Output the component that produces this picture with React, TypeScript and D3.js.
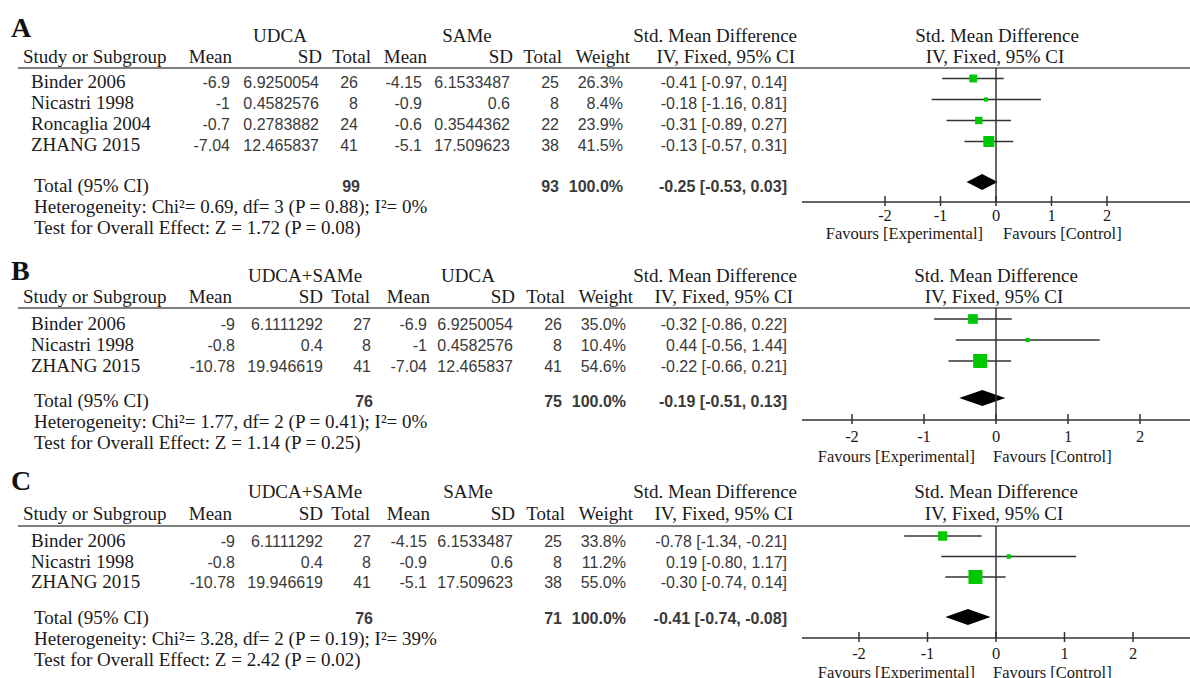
import React from "react";
import * as d3 from "d3";

// values
const groupsA = ["UDCA", "SAMe"];
const groupsB = ["UDCA+SAMe", "UDCA"];
const groupsC = ["UDCA+SAMe", "SAMe"];

const rowsA = [
  { study: "Binder 2006", m1: -6.9, sd1: 6.9250054, n1: 26, m2: -4.15, sd2: 6.1533487, n2: 25, w: 26.3, smd: -0.41, lo: -0.97, hi: 0.14 },
  { study: "Nicastri 1998", m1: -1, sd1: 0.4582576, n1: 8, m2: -0.9, sd2: 0.6, n2: 8, w: 8.4, smd: -0.18, lo: -1.16, hi: 0.81 },
  { study: "Roncaglia 2004", m1: -0.7, sd1: 0.2783882, n1: 24, m2: -0.6, sd2: 0.3544362, n2: 22, w: 23.9, smd: -0.31, lo: -0.89, hi: 0.27 },
  { study: "ZHANG 2015", m1: -7.04, sd1: 12.465837, n1: 41, m2: -5.1, sd2: 17.509623, n2: 38, w: 41.5, smd: -0.13, lo: -0.57, hi: 0.31 },
];
const rowsB = [
  { study: "Binder 2006", m1: -9, sd1: 6.1111292, n1: 27, m2: -6.9, sd2: 6.9250054, n2: 26, w: 35.0, smd: -0.32, lo: -0.86, hi: 0.22 },
  { study: "Nicastri 1998", m1: -0.8, sd1: 0.4, n1: 8, m2: -1, sd2: 0.4582576, n2: 8, w: 10.4, smd: 0.44, lo: -0.56, hi: 1.44 },
  { study: "ZHANG 2015", m1: -10.78, sd1: 19.946619, n1: 41, m2: -7.04, sd2: 12.465837, n2: 41, w: 54.6, smd: -0.22, lo: -0.66, hi: 0.21 },
];
const rowsC = [
  { study: "Binder 2006", m1: -9, sd1: 6.1111292, n1: 27, m2: -4.15, sd2: 6.1533487, n2: 25, w: 33.8, smd: -0.78, lo: -1.34, hi: -0.21 },
  { study: "Nicastri 1998", m1: -0.8, sd1: 0.4, n1: 8, m2: -0.9, sd2: 0.6, n2: 8, w: 11.2, smd: 0.19, lo: -0.8, hi: 1.17 },
  { study: "ZHANG 2015", m1: -10.78, sd1: 19.946619, n1: 41, m2: -5.1, sd2: 17.509623, n2: 38, w: 55.0, smd: -0.3, lo: -0.74, hi: 0.14 },
];

const totalA = { n1: 99, n2: 93, smd: -0.25, lo: -0.53, hi: 0.03 };
const totalB = { n1: 76, n2: 75, smd: -0.19, lo: -0.51, hi: 0.13 };
const totalC = { n1: 76, n2: 71, smd: -0.41, lo: -0.74, hi: -0.08 };

const hetA = "Heterogeneity: Chi²= 0.69, df= 3 (P = 0.88); I²= 0%";
const hetB = "Heterogeneity: Chi²= 1.77, df= 2 (P = 0.41); I²= 0%";
const hetC = "Heterogeneity: Chi²= 3.28, df= 2 (P = 0.19); I²= 39%";
const testA = "Test for Overall Effect: Z = 1.72 (P = 0.08)";
const testB = "Test for Overall Effect: Z = 1.14 (P = 0.25)";
const testC = "Test for Overall Effect: Z = 2.42 (P = 0.02)";

const axisTicks = [-2, -1, 0, 1, 2];

const SERIF = "'Liberation Serif', 'Times New Roman', serif";
const SANS = "'Liberation Sans', Arial, sans-serif";

// column positions
const colsA = {
  m1: 230, sd1: 319, n1: 358, m2: 422, sd2: 510, n2: 559, w: 623, ci: 787,
  hM1: 232, hSd1: 322, hN1: 371, hM2: 427, hSd2: 513, hN2: 562, hW: 630, hIv: 795, hStd: 797,
  g1: 280, g2: 467,
};
const colsBC = {
  m1: 235, sd1: 323, n1: 371, m2: 427, sd2: 513, n2: 562, w: 626, ci: 787,
  hM1: 232, hSd1: 323, hN1: 370, hM2: 430, hSd2: 515, hN2: 565, hW: 633, hIv: 793, hStd: 797,
  g1: 305, g2: 468,
};

const layA = { letterY: 37, groupY: 42, headY: 63, lineY: 68, rowY: 88, rowStep: 21, totalY: 192, hetY: 213, testY: 234,
  axisY: 202, tickY: 221, favY: 239, forest: [885, 1107], mark: 9.5, diam: 10, maxSide: 11, minSide: 2.5, favExp: 983, favCtl: 1003, titleX: 997 };
const layB = { letterY: 280, groupY: 282, headY: 303, lineY: 308, rowY: 330, rowStep: 21, totalY: 407, hetY: 428, testY: 449,
  axisY: 420, tickY: 442, favY: 462, forest: [852, 1140], mark: 11, diam: 9, maxSide: 14, minSide: 2, favExp: 975, favCtl: 993, titleX: 996 };
const layC = { letterY: 490, groupY: 498, headY: 520, lineY: 526, rowY: 547, rowStep: 20.5, totalY: 624, hetY: 645, testY: 666,
  axisY: 638, tickY: 659, favY: 678, forest: [859, 1133], mark: 11, diam: 7, maxSide: 14, minSide: 2, favExp: 975, favCtl: 993, titleX: 996 };

const f2 = (v) => v.toFixed(2);
const ciText = (d) => `${f2(d.smd)} [${f2(d.lo)}, ${f2(d.hi)}]`;

function Panel({ letter, groups, rows, total, het, test, cols, lay }) {
  const x = d3.scaleLinear().domain([-2, 2]).range(lay.forest);
  const side = d3.scaleLinear().domain([0, d3.max(rows, (r) => r.w)]).range([lay.minSide, lay.maxSide]);
  const y = (i) => lay.rowY + i * lay.rowStep;
  const serif = { fontFamily: SERIF, fontSize: 19, fill: "#1a1a1a" };
  const sans = { fontFamily: SANS, fontSize: 16, fill: "#3a3a3a" };
  const dy = lay.totalY - lay.diam;
  const diamond = d3.line()([
    [x(total.lo), dy], [x(total.smd), dy - 8], [x(total.hi), dy], [x(total.smd), dy + 8],
  ]) + "Z";

  return (
    <g>
      <text x={11} y={lay.letterY} fontFamily={SERIF} fontSize={28} fontWeight="bold" fill="#111">{letter}</text>
      <g {...serif}>
        <text x={cols.g1} y={lay.groupY} textAnchor="middle">{groups[0]}</text>
        <text x={cols.g2} y={lay.groupY} textAnchor="middle">{groups[1]}</text>
        <text x={cols.hStd} y={lay.groupY} textAnchor="end">Std. Mean Difference</text>
        <text x={lay.titleX} y={lay.groupY} textAnchor="middle">Std. Mean Difference</text>
        <text x={23} y={lay.headY}>Study or Subgroup</text>
        <text x={cols.hM1} y={lay.headY} textAnchor="end">Mean</text>
        <text x={cols.hSd1} y={lay.headY} textAnchor="end">SD</text>
        <text x={cols.hN1} y={lay.headY} textAnchor="end">Total</text>
        <text x={cols.hM2} y={lay.headY} textAnchor="end">Mean</text>
        <text x={cols.hSd2} y={lay.headY} textAnchor="end">SD</text>
        <text x={cols.hN2} y={lay.headY} textAnchor="end">Total</text>
        <text x={cols.hW} y={lay.headY} textAnchor="end">Weight</text>
        <text x={cols.hIv} y={lay.headY} textAnchor="end">IV, Fixed, 95% CI</text>
        <text x={lay.titleX - 2} y={lay.headY} textAnchor="middle">IV, Fixed, 95% CI</text>
      </g>
      <line x1={18} x2={1190} y1={lay.lineY} y2={lay.lineY} stroke="#555" strokeWidth={1.5} />

      {rows.map((r, i) => (
        <g key={r.study}>
          <text x={31} y={y(i)} {...serif}>{r.study}</text>
          <g {...sans} textAnchor="end">
            <text x={cols.m1} y={y(i)}>{String(r.m1)}</text>
            <text x={cols.sd1} y={y(i)}>{String(r.sd1)}</text>
            <text x={cols.n1} y={y(i)}>{r.n1}</text>
            <text x={cols.m2} y={y(i)}>{String(r.m2)}</text>
            <text x={cols.sd2} y={y(i)}>{String(r.sd2)}</text>
            <text x={cols.n2} y={y(i)}>{r.n2}</text>
            <text x={cols.w} y={y(i)}>{r.w.toFixed(1)}%</text>
            <text x={cols.ci} y={y(i)}>{ciText(r)}</text>
          </g>
          <line x1={x(r.lo)} x2={x(r.hi)} y1={y(i) - lay.mark} y2={y(i) - lay.mark} stroke="#333" strokeWidth={1.5} />
          <rect x={x(r.smd) - side(r.w) / 2} y={y(i) - lay.mark - side(r.w) / 2} width={side(r.w)} height={side(r.w)} fill="#00c800" />
        </g>
      ))}

      <text x={34} y={lay.totalY} {...serif}>Total (95% CI)</text>
      <g {...sans} fontWeight="bold" textAnchor="end">
        <text x={cols.n1 + 2} y={lay.totalY}>{total.n1}</text>
        <text x={cols.n2} y={lay.totalY}>{total.n2}</text>
        <text x={cols.w} y={lay.totalY}>100.0%</text>
        <text x={cols.ci} y={lay.totalY}>{ciText(total)}</text>
      </g>
      <text x={34} y={lay.hetY} {...serif}>{het}</text>
      <text x={34} y={lay.testY} {...serif}>{test}</text>

      <path d={diamond} fill="#000" />
      <line x1={x(0)} x2={x(0)} y1={lay.lineY} y2={lay.axisY} stroke="#333" strokeWidth={1.5} />
      <line x1={802} x2={1190} y1={lay.axisY} y2={lay.axisY} stroke="#333" strokeWidth={1.5} />
      {axisTicks.map((t) => (
        <g key={t}>
          <line x1={x(t)} x2={x(t)} y1={lay.axisY - 6} y2={lay.axisY + 4} stroke="#333" strokeWidth={1.5} />
          <text x={x(t)} y={lay.tickY} textAnchor="middle" fontFamily={SERIF} fontSize={16.5} fill="#1a1a1a">{String(t)}</text>
        </g>
      ))}
      <text x={lay.favExp} y={lay.favY} textAnchor="end" fontFamily={SERIF} fontSize={16.5} fill="#1a1a1a">Favours [Experimental]</text>
      <text x={lay.favCtl} y={lay.favY} fontFamily={SERIF} fontSize={16.5} fill="#1a1a1a">Favours [Control]</text>
    </g>
  );
}

export default function App() {
  return (
    <svg width={1190} height={678} style={{ position: "absolute", left: 0, top: 0, background: "#fff" }}>
      <rect width={1190} height={678} fill="#fff" />
      <Panel letter="A" groups={groupsA} rows={rowsA} total={totalA} het={hetA} test={testA} cols={colsA} lay={layA} />
      <Panel letter="B" groups={groupsB} rows={rowsB} total={totalB} het={hetB} test={testB} cols={colsBC} lay={layB} />
      <Panel letter="C" groups={groupsC} rows={rowsC} total={totalC} het={hetC} test={testC} cols={colsBC} lay={layC} />
    </svg>
  );
}
